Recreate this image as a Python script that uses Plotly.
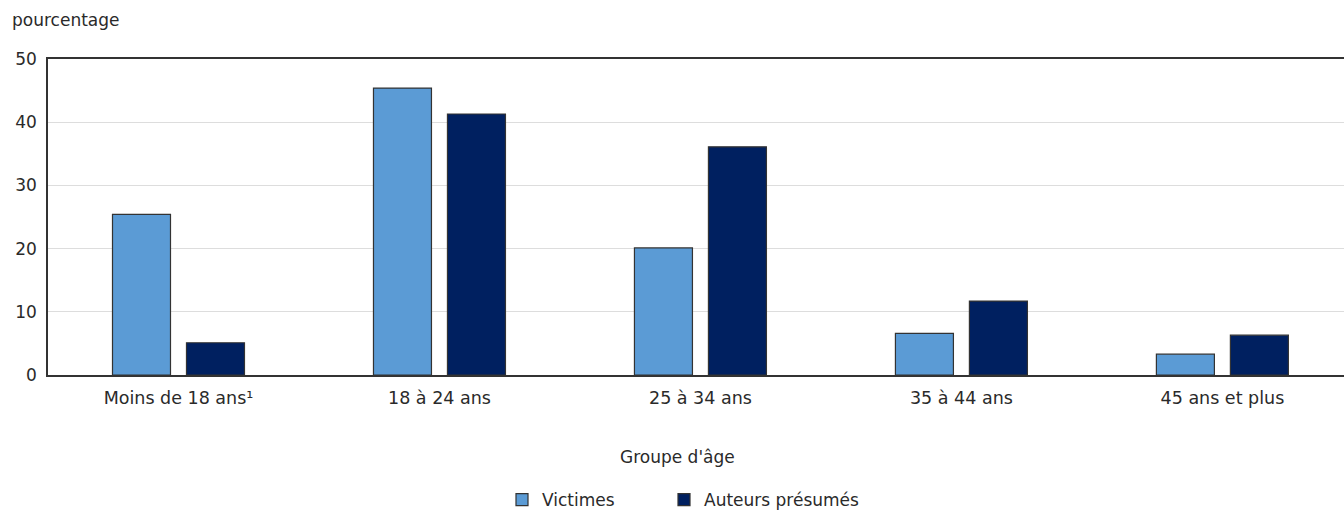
import plotly.graph_objects as go

categories = ["Moins de 18 ans\u00b9", "18 à 24 ans", "25 à 34 ans", "35 à 44 ans", "45 ans et plus"]
victimes = [25.4, 45.4, 20.1, 6.6, 3.3]
auteurs = [5.1, 41.3, 36.1, 11.7, 6.3]
y_ticks = [0, 10, 20, 30, 40, 50]

FONT = "DejaVu Sans"
TXT = "#2a2a2a"
W, H = 1344, 510
L, R, T, B = 48, 0, 59, 135
PW, PH = W - L - R, H - T - B

fig = go.Figure()
fig.add_trace(go.Bar(name="Victimes", x=categories, y=victimes, legend="legend",
                     marker=dict(color="#5B9BD5", line=dict(color="#333333", width=1.2))))
fig.add_trace(go.Bar(name="Auteurs présumés", x=categories, y=auteurs, legend="legend2",
                     marker=dict(color="#002060", line=dict(color="#333333", width=1.2))))

leg_common = dict(orientation="h", xref="container", xanchor="left",
                  yref="container", y=1 - 500 / H, yanchor="middle",
                  font=dict(size=17), itemwidth=30, bgcolor="rgba(0,0,0,0)")

fig.update_layout(
    width=W, height=H,
    margin=dict(l=L, r=R, t=T, b=B, autoexpand=False),
    paper_bgcolor="white", plot_bgcolor="white",
    font=dict(family=FONT, size=17, color=TXT),
    barmode="group", bargap=0.433, bargroupgap=0.216,
    showlegend=True,
    legend=dict(x=502 / W, **leg_common),
    legend2=dict(x=664 / W, **leg_common),
    annotations=[
        dict(text="pourcentage", xref="paper", yref="paper", x=(10 - L) / PW, y=1 + (T - 20) / PH,
             xanchor="left", yanchor="middle", showarrow=False, font=dict(size=17, color=TXT)),
        dict(text="Groupe d'âge", xref="paper", yref="paper", x=(677 - L) / PW, y=-(457 - (T + PH)) / PH,
             xanchor="center", yanchor="middle", showarrow=False, font=dict(size=17, color=TXT)),
    ],
)
fig.update_xaxes(range=[-0.5, 4.466], showline=True, linecolor="#333333", linewidth=1.5,
                 mirror=True, showgrid=False, ticks="outside", ticklen=6, tickcolor="rgba(0,0,0,0)",
                 automargin=False, tickfont=dict(size=17.5))
fig.update_yaxes(range=[0, 50], tickvals=y_ticks, showline=True, linecolor="#333333",
                 linewidth=1.5, showgrid=True, gridcolor="#DDDDDD", gridwidth=1.2,
                 zeroline=False, ticks="outside", ticklen=6, tickcolor="rgba(0,0,0,0)",
                 automargin=False, tickfont=dict(size=17))

fig.write_html("out.html", config={"displayModeBar": False},
               post_script="document.body.style.margin='0px';")
